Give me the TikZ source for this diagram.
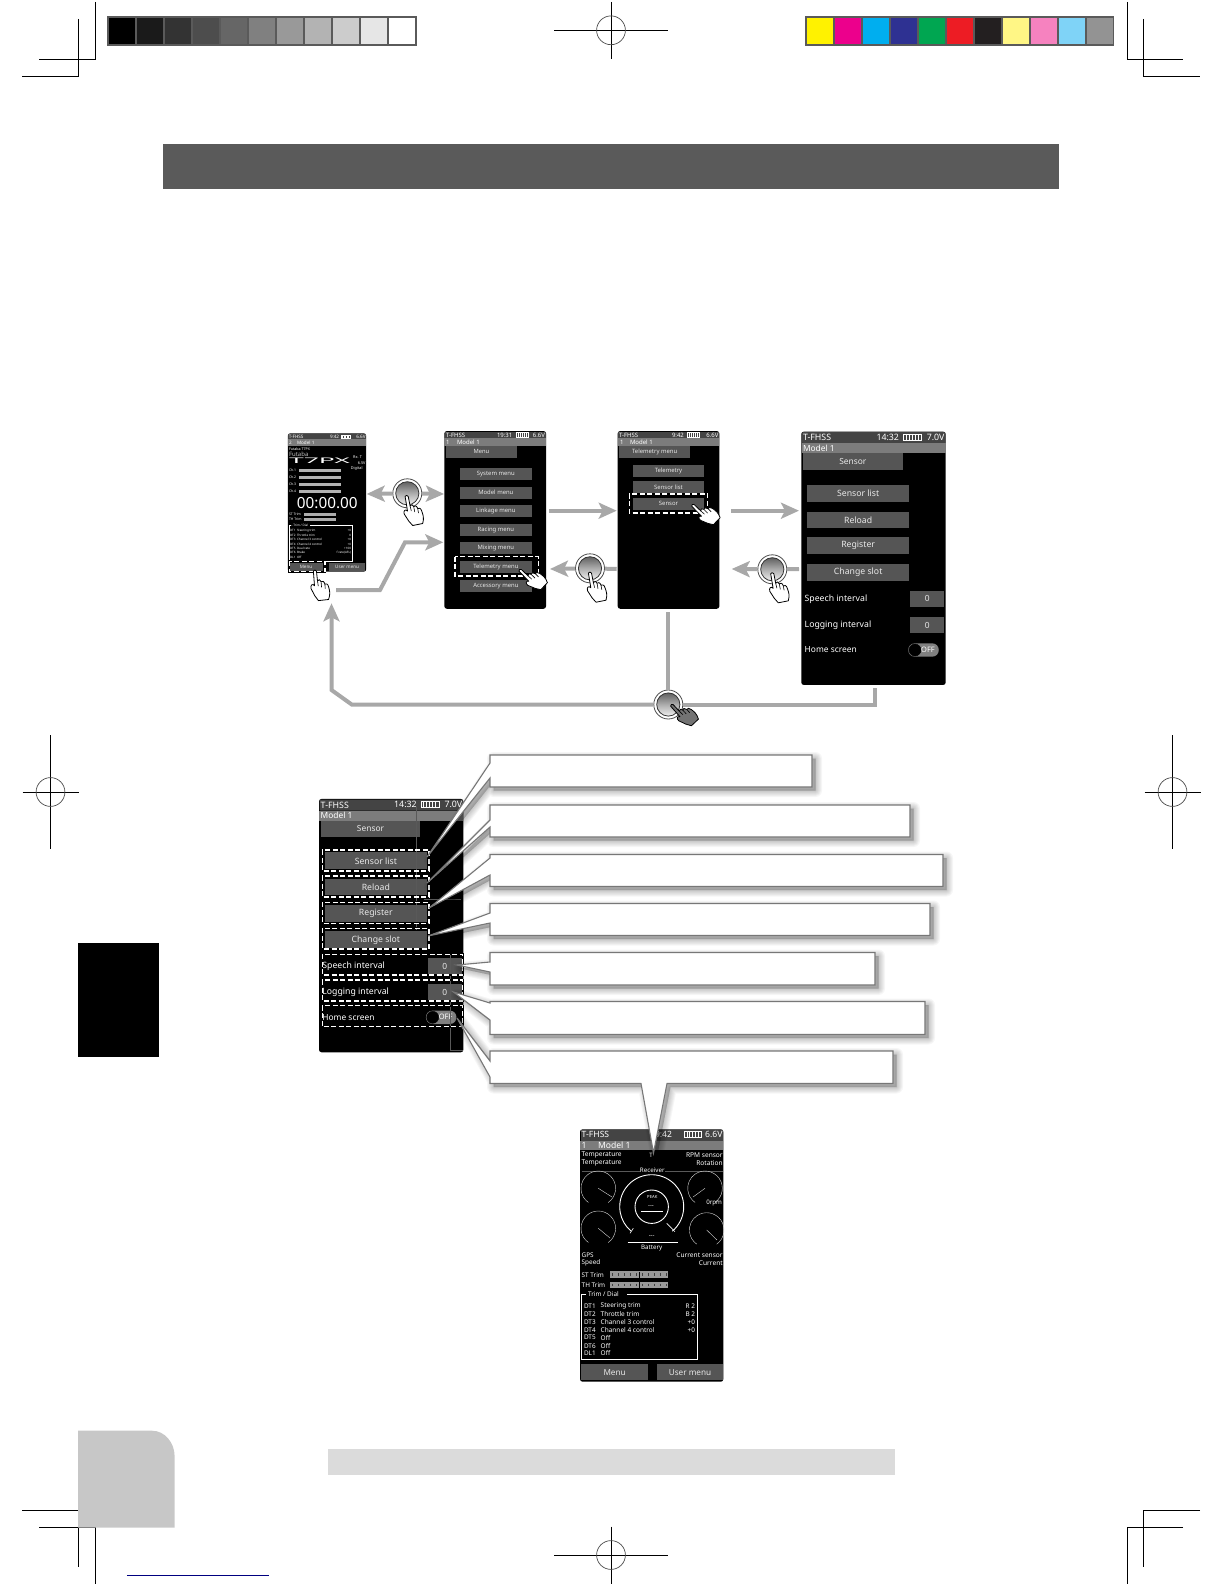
\documentclass[tikz,border=0pt]{standalone}
\usepackage{fontspec}
\usepackage{graphicx}
\setmainfont{Noto Sans}
\usetikzlibrary{arrows.meta,calc}
\definecolor{arrowgray}{HTML}{A8A8A8}
\definecolor{statusdark}{HTML}{444444}
\definecolor{modelbar}{HTML}{7C7C7C}
\definecolor{btnfill}{HTML}{555555}
\definecolor{calloutgray}{HTML}{777777}
\definecolor{bardark}{HTML}{5A5A5A}
\definecolor{textlight}{HTML}{E8E8E8}
\definecolor{gA}{HTML}{000000}\definecolor{gB}{HTML}{1A1A1A}\definecolor{gC}{HTML}{333333}
\definecolor{gD}{HTML}{4D4D4D}\definecolor{gE}{HTML}{666666}\definecolor{gF}{HTML}{808080}
\definecolor{gG}{HTML}{999999}\definecolor{gH}{HTML}{B3B3B3}\definecolor{gI}{HTML}{CCCCCC}
\definecolor{gJ}{HTML}{E6E6E6}\definecolor{gK}{HTML}{FFFFFF}
\definecolor{cA}{HTML}{FFF200}\definecolor{cB}{HTML}{EC008C}\definecolor{cC}{HTML}{00AEEF}
\definecolor{cD}{HTML}{2E3192}\definecolor{cE}{HTML}{00A651}\definecolor{cF}{HTML}{ED1C24}
\definecolor{cG}{HTML}{231F20}\definecolor{cH}{HTML}{FFF685}\definecolor{cI}{HTML}{F682BF}
\definecolor{cJ}{HTML}{7FD3F7}\definecolor{cK}{HTML}{939393}
\newcounter{tnc}
\newcommand{\fsz}[1]{\fontsize{#1}{#1}\selectfont}
\newcommand{\txtnode}[5][]{\stepcounter{tnc}\node[ui,font=\fsz{#2},#1] (t\arabic{tnc}) at (#3,#4) {#5};}
\newcommand{\uibtn}[6]{\stepcounter{tnc}\path[fill=btnfill] (#1,#2) rectangle (#3,#4) node[pos=.5,ui,text=textlight,font=\fsz{#6}] (t\arabic{tnc}) {#5};}
\newcommand{\dashframe}[4]{\draw[black,line width=2] (#1,#2) rectangle (#3,#4);\draw[white,line width=1.4,dash pattern=on 5 off 2.5] (#1,#2) rectangle (#3,#4);}
\newcommand{\batt}[4]{\draw[white,line width=.4] (#1,#2) rectangle ++(#3,#4);\foreach \k in {1,...,5}{\draw[white,line width=.5] ($(#1,#2)+(\k*#3/6,0)$) -- ++(0,#4);}}
\newcommand{\handicon}[5]{\begin{scope}[shift={(#1,#2)},rotate=#3,scale=#4]
\draw[fill=#5,draw=black,line width=.8,line join=round]
 (-1.6,0.4) .. controls (-1.4,-1) and (1.2,-1) .. (1.5,0.4) -- (3.4,10)
 .. controls (4,8) and (6.3,8) .. (7,10.5) .. controls (8,9.3) and (10,9.5) .. (11,12.5)
 .. controls (12,11.5) and (14.2,12) .. (15,15) .. controls (16.5,19) and (17.5,22) .. (16,27.5)
 -- (6,29.5) -- (2,25) -- (-2.5,18) .. controls (-3.5,15) and (-1.5,12.5) .. (0.8,15) -- cycle;
\draw[black,line width=.6] (3.4,10) -- (4.6,15) (7,10.5) -- (8,16) (11,12.5) -- (11.8,17);
\end{scope}}
\newcommand{\pushbtn}[3]{\node[pushring] (#1) at (#2,#3) {};
\shade[top color=black!62,bottom color=black!6,middle color=black!32,draw=black!80,line width=.8] (#2,#3) circle[radius=11.6pt];}
\newcommand{\calloutbox}[1]{\foreach \w in {13,11,9,7,5,3,1}{\path[shift={(3.5,3.5)},draw=black,fill=black,line width=\w pt,line join=round,opacity=.035] #1;}
\draw[draw=calloutgray,fill=white,line width=1.1,line join=miter] #1;}
\newcommand{\regmark}[4]{\draw[regline] (#1-#3,#2) -- (#1+#3,#2) (#1,#2-#4) -- (#1,#2+#4);\draw[black!70,line width=.7] (#1,#2) circle[radius=14.4pt];}
\newcommand{\sensorphone}[3]{
\begin{scope}[shift={(#2,#3)}]
\node[phone,minimum width=144.4pt,minimum height=253.3pt] (#1) at (873.5,558.3) {};
\fill[statusdark,rounded corners=1] (801.8,432.2) rectangle (945.2,443.3);
\fill[modelbar] (801.5,443.3) rectangle (945.5,453.3);
\txtnode[anchor=west]{8.8}{803}{437.6}{T-FHSS}
\txtnode[anchor=west]{8.8}{876.5}{437.2}{14:32}
\batt{903}{434}{18}{6}
\txtnode[anchor=east]{8.8}{944.5}{437.2}{7.0V}
\txtnode[anchor=west]{8.4}{803}{448.4}{Model 1}
\uibtn{803}{453.3}{902.7}{470}{Sensor}{8.4}
\uibtn{807.3}{485}{909}{502}{Sensor list}{8.7}
\uibtn{807.3}{511.7}{909}{528}{Reload}{8.7}
\uibtn{807.3}{537.3}{909}{554.3}{Register}{8.7}
\uibtn{807.3}{564}{909}{581}{Change slot}{8.7}
\txtnode[anchor=west]{8.7}{804.7}{599.2}{Speech interval}
\txtnode[anchor=west]{8.7}{804.7}{625.2}{Logging interval}
\txtnode[anchor=west]{8.4}{804.7}{650}{Home screen}
\uibtn{910.3}{590.7}{944}{606.7}{0}{8.4}
\uibtn{910.3}{617}{944}{633.3}{0}{8.4}
\fill[gray] (915,643.3) -- (932,643.3) .. controls (941,643.3) and (941,656.7) .. (932,656.7) -- (915,656.7) .. controls (906,656.7) and (906,643.3) .. (915,643.3) -- cycle;
\draw[black,fill=black] (915,650) circle[radius=6pt];
\txtnode{7.5}{928}{650}{OFF}
\end{scope}}
\tikzset{
 ui/.style={text=white,inner sep=0pt,outer sep=0pt},
 phone/.style={fill=black,rounded corners=2.5pt,inner sep=0pt,draw=none},
 pushring/.style={circle,minimum size=29pt,inner sep=0pt,fill=white,draw=black!70,line width=.8},
 regline/.style={black,line width=.8},
 flowline/.style={arrowgray,line width=4pt,line join=miter},
 flowarrow/.style={flowline,-{Stealth[length=18pt,width=16pt,inset=4pt]}},
 faint/.style={black!65,line width=.35},
}
\begin{document}
\begin{tikzpicture}[x=1pt,y=-1pt]
\useasboundingbox (0,0) rectangle (1224,1584);
% crop marks
\draw[regline] (95,2) -- (95,59.5) -- (39,59.5);
\draw[regline] (78.6,19) -- (78.6,76.3) -- (22,76.3);
\draw[regline] (1127,2) -- (1127,59.5) -- (1183,59.5);
\draw[regline] (1143.5,19) -- (1143.5,76.3) -- (1200,76.3);
\draw[regline] (22,1510) -- (78.6,1510) -- (78.6,1566.7);
\draw[regline] (39,1527) -- (95,1527) -- (95,1584);
\draw[regline] (1200,1510) -- (1143.5,1510) -- (1143.5,1566.7);
\draw[regline] (1183,1527) -- (1127,1527) -- (1127,1584);
\regmark{611}{30.3}{57}{28.5}
\regmark{611}{1555}{57}{28.5}
\regmark{50.5}{792}{28}{57}
\regmark{1172.5}{792}{28}{57}
% colour bars
\fill[bardark] (107,16) rectangle (416.5,45.7);
\foreach \i/\c in {0/gA,1/gB,2/gC,3/gD,4/gE,5/gF,6/gG,7/gH,8/gI,9/gJ,10/gK}{\fill[\c] (108.6+\i*28,18) rectangle (135.2+\i*28,44);}
\fill[bardark] (805,16) rectangle (1114,45.7);
\foreach \i/\c in {0/cA,1/cB,2/cC,3/cD,4/cE,5/cF,6/cG,7/cH,8/cI,9/cJ,10/cK}{\fill[\c] (806.8+\i*27.97,18) rectangle (833+\i*27.97,44);}
% page elements
\fill[bardark] (162.6,143.5) rectangle (1058.5,189);
\fill[black] (78,942.5) rectangle (158.5,1056.5);
\fill[black!22] (78,1527.7) -- (78,1430.7) -- (152,1430.7) .. controls (165,1430.7) and (174.6,1443) .. (174.6,1456) -- (174.6,1527.7) -- cycle;
\fill[black!14] (328,1449.3) rectangle (895,1474.7);
\draw[blue!50!black,line width=1] (126.8,1575) -- (269,1575);
% phone 1
\node[phone,minimum width=78.4pt,minimum height=138.4pt] (p1) at (327,502.5) {};
\fill[statusdark] (288.3,433.8) rectangle (365.7,439.3);
\fill[modelbar] (288,439.3) rectangle (366,446);
\txtnode[anchor=west]{4.6}{288.8}{436.6}{T-FHSS}
\txtnode[anchor=west]{4.6}{330}{436.6}{9:42}
\batt{341}{435}{9}{3}
\txtnode[anchor=east]{4.6}{365.6}{436.6}{6.6V}
\txtnode[anchor=west]{4.6}{289}{442.8}{2}
\txtnode[anchor=west]{4.6}{297}{442.8}{Model 1}
\txtnode[anchor=west]{3.6}{289}{449}{Futaba T7PX}
\txtnode[anchor=west,text=black!25]{6}{289}{454.3}{\textbf{Futaba}}
\txtnode[anchor=west]{8}{289}{461}{\resizebox{61pt}{5.5pt}{T7PX}}
\txtnode[anchor=east]{3.8}{362}{457.3}{Rx. T}
\txtnode[anchor=east]{3.8}{365.5}{463}{6.5V}
\txtnode[anchor=east]{3.8}{362.5}{468.7}{Digital}
\foreach \n/\yy in {1/470.7,2/477.7,3/484.7,4/491.7}{
 \txtnode[anchor=west]{3.4}{289}{\yy}{Ch.\n}
 \fill[black!30] (299.3,\yy-1.7) rectangle (341,\yy+1.7);
}
\txtnode{15.3}{327.3}{503.3}{00:00.00}
\txtnode[anchor=west]{3.4}{289}{514.3}{ST Trim}
\txtnode[anchor=west]{3.4}{289}{519.3}{TH Trim}
\fill[black!32] (304,512.6) rectangle (336,516);
\fill[black!32] (304,517.6) rectangle (336,521);
\draw[white,line width=.35] (294,525) -- (289,525) -- (289,560.7) -- (351.7,560.7) -- (351.7,525) -- (310,525);
\txtnode[anchor=west,fill=black]{3.1}{291}{525}{-- Trim / Dial}
\foreach \yy/\tl/\tv in {530.7/DT1\ \ Steering trim/+0,535/DT2\ \ Throttle trim/0,539.3/DT3\ \ Channel 3 control/+0,544/DT4\ \ Channel 4 control/+0,548.3/DT5\ \ Dual rate/+100,552.7/DT6\ \ Brake/f rate(AFL)/+100,557/DL1\ \ Off/}{
 \txtnode[anchor=west]{3}{290}{\yy}{\tl}
 \txtnode[anchor=east]{3}{351}{\yy}{\tv}
}
\uibtn{289}{562.7}{323}{571.3}{Menu}{4.6}
\uibtn{329.3}{562.7}{365}{571.3}{User menu}{4.6}
\dashframe{289.3}{561.3}{325}{571.7}
% phone 2
\node[phone,minimum width=101.7pt,minimum height=177.7pt] (p2) at (495.2,519.9) {};
\fill[statusdark] (444.8,431.5) rectangle (545.5,438.3);
\fill[modelbar] (444.3,438.3) rectangle (546,446);
\txtnode[anchor=west]{6}{446}{435}{T-FHSS}
\txtnode[anchor=west]{6}{497}{435}{19:31}
\batt{516}{432.5}{12}{4.5}
\txtnode[anchor=east]{6}{545}{435}{6.6V}
\txtnode[anchor=west]{6}{446}{442}{1}
\txtnode[anchor=west]{6}{457}{442}{Model 1}
\uibtn{446}{446}{516.7}{457.7}{Menu}{5.8}
\foreach \yc/\lb in {474.2/System menu,492.7/Model menu,511.3/Linkage menu,530/Racing menu,548.3/Mixing menu,567/Telemetry menu,585.7/Accessory menu}{
 \uibtn{460}{\yc-6}{531.7}{\yc+6}{\lb}{5.9}
}
\dashframe{455}{556.7}{538.3}{576}
\handicon{520}{570}{35}{.95}{white}
% phone 3
\node[phone,minimum width=101.7pt,minimum height=177.7pt] (p3) at (668.5,519.9) {};
\fill[statusdark] (618.2,431.5) rectangle (718.8,438.3);
\fill[modelbar] (617.7,438.3) rectangle (719.3,446);
\txtnode[anchor=west]{6}{619}{435}{T-FHSS}
\txtnode[anchor=west]{6}{672}{435}{9:42}
\batt{687}{432.5}{12}{4.5}
\txtnode[anchor=east]{6}{718.5}{435}{6.6V}
\txtnode[anchor=west]{6}{620}{442}{1}
\txtnode[anchor=west]{6}{630}{442}{Model 1}
\uibtn{619.3}{446}{690}{457.7}{Telemetry menu}{5.9}
\uibtn{632.7}{464.7}{704.3}{476.7}{Telemetry}{5.9}
\uibtn{632.7}{481}{704.3}{493.3}{Sensor list}{5.9}
\uibtn{632.7}{497.7}{704.3}{510}{Sensor}{5.9}
\dashframe{629.3}{493.8}{707.7}{513}
\handicon{692.7}{505}{35}{.95}{white}
% phones 4, 5
\sensorphone{p4}{0}{0}
\sensorphone{p5}{-482.3}{367.3}
\draw[faint] (415.7,807) -- (415.7,930) (424,899.5) -- (461,899.5) (450,955) -- (450,1050) -- (463,1050);
\foreach \ya/\yb/\xb in {850/871/429,876/897/429,902.3/923.3/429,928.3/949/429,954.3/975/462.7,980/1001/462.7,1005.7/1026.7/462.7}{
 \dashframe{322.3}{\ya}{\xb}{\yb}
}
% phone 6
\node[phone,minimum width=143.3pt,minimum height=252.4pt] (p6) at (651.7,1255.5) {};
\fill[statusdark] (580.5,1129.8) rectangle (722.8,1140.7);
\fill[modelbar] (580,1140.7) rectangle (723.3,1150);
\txtnode[anchor=west]{8.6}{581.7}{1134.7}{T-FHSS}
\txtnode[anchor=west]{8.6}{655}{1134.5}{9:42}
\batt{684}{1131.5}{17}{6}
\txtnode[anchor=east]{8.6}{722.5}{1134.5}{6.6V}
\txtnode[anchor=west]{8.6}{581.7}{1145}{1}
\txtnode[anchor=west]{8.6}{598}{1145}{Model 1}
\txtnode[anchor=west]{6.6}{581.7}{1154.7}{Temperature}
\txtnode[anchor=west]{6.6}{581.7}{1162.7}{Temperature}
\txtnode[anchor=east]{6.6}{722.7}{1154.7}{RPM sensor}
\txtnode[anchor=east]{6.6}{722.7}{1162.7}{Rotation}
\draw[faint] (581.7,1171.5) -- (722.7,1171.5);
\txtnode[fill=black]{6.2}{652.3}{1170.3}{Receiver}
\txtnode{6}{651}{1155}{T}
\foreach \cx/\cy/\nx/\ny in {598.3/1188.3/612/1197,705/1188.3/693/1197,598.3/1228.3/610/1238,706.7/1230/717/1240}{
 \draw[black!15,line width=.4] (\cx,\cy) ++(-55:17.3pt) arc[start angle=-55,end angle=235,radius=17.3pt];
 \draw[black!15,line width=.4] (\cx,\cy) -- (\nx,\ny);
}
\draw[white,line width=.9] (651.7,1206.7) ++(-50:32pt) arc[start angle=-50,end angle=230,radius=32pt];
\draw[white,line width=.9] (651.7,1206.7) circle[radius=16.7pt];
\draw[white,line width=1.2] (641,1211.7) -- (663.3,1211.7);
\draw[white,line width=.6] (630,1233.3) -- (633.3,1228.3) (666.7,1223.3) -- (675,1231.7);
\txtnode{4.2}{652.3}{1196.7}{PEAK}
\txtnode{6}{651}{1206.7}{-{}-{}-}
\txtnode{6}{651.7}{1236.7}{-{}-{}-}
\draw[white,line width=1.2] (627.7,1242.7) -- (677.7,1242.7);
\txtnode{6.2}{651.7}{1248.3}{Battery}
\txtnode[anchor=east]{6.2}{722}{1202.7}{0rpm}
\txtnode[anchor=west]{6.4}{581.7}{1255}{GPS}
\txtnode[anchor=west]{6.4}{581.7}{1262.7}{Speed}
\txtnode[anchor=east]{6.6}{722.7}{1255}{Current sensor}
\txtnode[anchor=east]{6.6}{722.7}{1262.7}{Current}
\foreach \yy/\lb in {1274.7/ST Trim,1285/TH Trim}{
 \txtnode[anchor=west]{6.4}{581.7}{\yy}{\lb}
 \fill[black!40] (610,\yy-3.3) rectangle (668.3,\yy+3.3);
 \foreach \q in {0,...,9}{\draw[black!75,line width=.4] (612+\q*6,\yy-1.3) -- (612+\q*6,\yy+1.3);}
 \draw[black,line width=.9] (639.5,\yy-3) -- (639.5,\yy+3);
}
\draw[white,line width=.6] (586,1294.3) -- (581.7,1294.3) -- (581.7,1359.3) -- (697.7,1359.3) -- (697.7,1294.3) -- (627,1294.3);
\txtnode[anchor=west]{6.4}{588}{1294.3}{Trim / Dial}
\foreach \yy/\ta/\tb/\tc in {1306/DT1/Steering trim/R 2,1314/DT2/Throttle trim/B 2,1322/DT3/Channel 3 control/+0,1329.7/DT4/Channel 4 control/+0,1337.7/DT5/Off/,1345.7/DT6/Off/,1353.3/DL1/Off/}{
 \txtnode[anchor=west]{6.4}{584}{\yy}{\ta}
 \txtnode[anchor=west]{6.5}{600.7}{\yy}{\tb}
 \txtnode[anchor=east]{6.4}{695}{\yy}{\tc}
}
\uibtn{581}{1364.3}{648.3}{1380}{Menu}{8.2}
\uibtn{656.7}{1364.3}{723.3}{1380}{User menu}{8.2}
% connector ends
\coordinate (a1l) at (366.7,494);
\coordinate (a1r) at (444,494);
\coordinate (a2s) at (336,590);
\coordinate (a2a) at (380,590);
\coordinate (a2b) at (405,542.3);
\coordinate (a2e) at (443.3,542.3);
\coordinate (a3s) at (549.3,510.7);
\coordinate (a3e) at (616.7,510.7);
\coordinate (a4s) at (731,510.7);
\coordinate (a4e) at (799,510.7);
\coordinate (a5s) at (616.7,569);
\coordinate (a5e) at (550,569);
\coordinate (a6s) at (799,569);
\coordinate (a6e) at (731.7,569);
\coordinate (a7s) at (668.3,612.3);
\coordinate (a8s) at (875,688.3);
\coordinate (a8c) at (875,704.5);
\coordinate (a9a) at (351.7,704.5);
\coordinate (a9b) at (331.5,690);
\coordinate (a9e) at (331.5,603.3);
% push buttons
\pushbtn{b1}{407.3}{493.3}
\pushbtn{b2}{590}{568.3}
\pushbtn{b3}{772.3}{569.3}
\pushbtn{b4}{668.3}{704.5}
% connectors
\draw[flowarrow] (b1) -- (a1l);
\draw[flowarrow] (b1) -- (a1r);
\draw[flowarrow] (a2s) -- (a2a) -- (a2b) -- (a2e);
\draw[flowarrow] (a3s) -- (a3e);
\draw[flowarrow] (a4s) -- (a4e);
\draw[flowline] (a5s) -- (b2);
\draw[flowarrow] (b2) -- (a5e);
\draw[flowline] (a6s) -- (b3);
\draw[flowarrow] (b3) -- (a6e);
\draw[flowline] (a7s) -- (b4);
\draw[flowline] (a8s) -- (a8c) -- (b4);
\draw[flowarrow] (b4) -- (a9a) -- (a9b) -- (a9e);
% hands
\handicon{315}{570.7}{-5}{1}{white}
\handicon{406.7}{496}{0}{1}{white}
\handicon{590}{572.7}{0}{1}{white}
\handicon{772.3}{573.3}{0}{1}{white}
\handicon{671.7}{705}{32}{.95}{black!55}
% callouts
\calloutbox{(490,755) -- (812,755) -- (812,787) -- (490,787) -- (490,778) -- (427,857) -- (490,763) -- cycle}
\calloutbox{(490,805) -- (910,805) -- (910,837) -- (490,837) -- (490,827) -- (427,883) -- (490,820) -- cycle}
\calloutbox{(490,854.5) -- (943,854.5) -- (943,886.5) -- (490,886.5) -- (490,875) -- (429,908) -- (490,858) -- cycle}
\calloutbox{(490,903.5) -- (930,903.5) -- (930,935.5) -- (490,935.5) -- (490,923) -- (428,936) -- (490,913) -- cycle}
\calloutbox{(490,952.5) -- (875,952.5) -- (875,985) -- (490,985) -- (490,972) -- (457,965) -- (490,962) -- cycle}
\calloutbox{(490,1001.5) -- (925,1001.5) -- (925,1034.5) -- (490,1034.5) -- (490,1020) -- (453.5,992) -- (490,1003) -- cycle}
\calloutbox{(490,1051) -- (893,1051) -- (893,1083.5) -- (667,1083.5) -- (653.5,1153) -- (641,1083.5) -- (490,1083.5) -- (490,1077) -- (457,1018) -- (490,1061) -- cycle}
\end{tikzpicture}
\end{document}
